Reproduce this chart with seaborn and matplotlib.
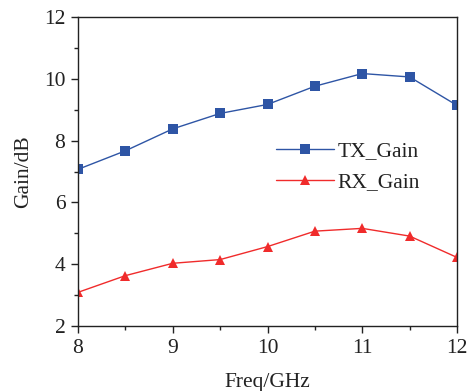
import matplotlib
matplotlib.use("Agg")
import matplotlib.pyplot as plt
import seaborn as sns
import pandas as pd
from matplotlib.ticker import MultipleLocator

freq = [8, 8.5, 9, 9.5, 10, 10.5, 11, 11.5, 12]
tx_gain = [7.07, 7.67, 8.38, 8.88, 9.17, 9.76, 10.17, 10.06, 9.14]
rx_gain = [3.09, 3.63, 4.03, 4.15, 4.57, 5.07, 5.16, 4.91, 4.22]
series_names = ["TX_Gain", "RX_Gain"]

sns.set_theme(style="ticks")
plt.rcParams['font.family'] = ['Liberation Serif', 'DejaVu Serif']
plt.rcParams['mathtext.fontset'] = 'stix'

df = pd.concat([
    pd.DataFrame({"Freq": freq, "Gain": tx_gain, "Series": series_names[0]}),
    pd.DataFrame({"Freq": freq, "Gain": rx_gain, "Series": series_names[1]}),
])

fig = plt.figure(figsize=(4.71, 3.91), dpi=100)
ax = fig.add_axes([0.1656, 0.1662, 0.9703 - 0.1656, 0.9565 - 0.1662])

palette = {series_names[0]: "#2E55A5", series_names[1]: "#F02B2B"}
markers = {series_names[0]: "s", series_names[1]: "^"}
sns.lineplot(data=df, x="Freq", y="Gain", hue="Series", style="Series",
             palette=palette, markers=markers, dashes=False, ax=ax,
             linewidth=1.0, markersize=7, markeredgewidth=0)

ax.set_xlim(8, 12)
ax.set_ylim(2, 12)
ax.xaxis.set_major_locator(MultipleLocator(1))
ax.xaxis.set_minor_locator(MultipleLocator(0.5))
ax.yaxis.set_major_locator(MultipleLocator(2))
ax.yaxis.set_minor_locator(MultipleLocator(1))
ax.tick_params(which="major", direction="out", length=5, width=1, color="#222222",
               labelsize=15.5, labelcolor="#222222", pad=4)
ax.tick_params(which="minor", direction="out", length=3, width=1, color="#222222")
ax.tick_params(top=False, right=False, which="both")
for s in ax.spines.values():
    s.set_visible(True)
    s.set_linewidth(1.0)
    s.set_color("#222222")

ax.set_xlabel("Freq/GHz", fontsize=15.5, color="#222222", labelpad=11)
ax.set_ylabel("Gain/dB", fontsize=15.5, color="#222222", labelpad=8)

leg = ax.legend(loc="upper left", bbox_to_anchor=(0.522, 0.598), frameon=False,
                fontsize=15.5, handlelength=2.7, handletextpad=0.15, labelspacing=0.5,
                borderaxespad=0, borderpad=0)
for t in leg.get_texts():
    t.set_color("#222222")

fig.savefig("out.png", dpi=100)
